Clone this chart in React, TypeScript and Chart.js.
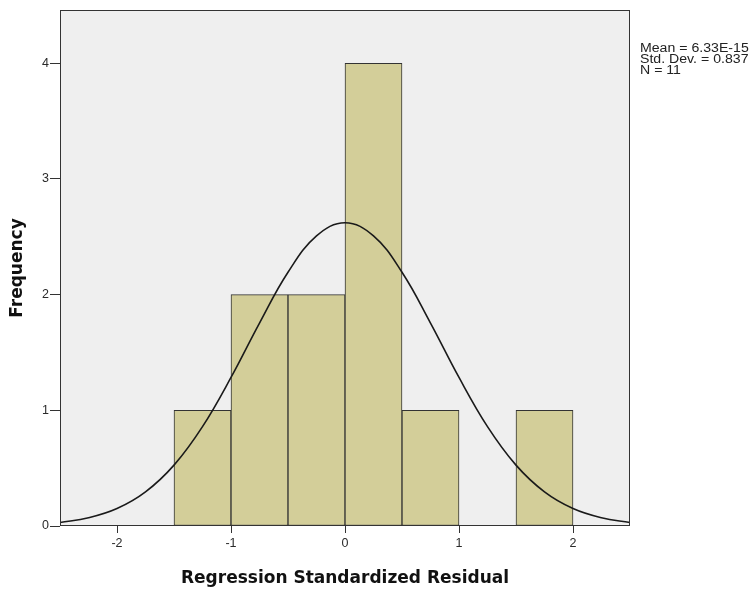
import React, { useEffect, useRef } from 'react';
import { Chart, registerables } from 'chart.js';

Chart.register(...registerables);

// Histogram bins (centers, width 0.5) and frequencies
const binCenters = [-1.25, -0.75, -0.25, 0.25, 0.75, 1.75];
const binCounts = [1, 2, 2, 4, 1, 1];

// Fitted normal curve
const curveX = [-2.5, -2.25, -2.0, -1.75, -1.5, -1.25, -1.0, -0.75, -0.5, -0.25, 0, 0.25, 0.5, 0.75, 1.0, 1.25, 1.5, 1.75, 2.0, 2.25, 2.5];
const curveY = [0.03, 0.071, 0.151, 0.295, 0.526, 0.859, 1.284, 1.754, 2.193, 2.507, 2.621, 2.507, 2.193, 1.754, 1.284, 0.859, 0.526, 0.295, 0.151, 0.071, 0.03];

const xTicks = [-2, -1, 0, 1, 2];
const yTicks = [0, 1, 2, 3, 4];

const xTitle = 'Regression Standardized Residual';
const yTitle = 'Frequency';
const statLines = ['Mean = 6.33E-15', 'Std. Dev. = 0.837', 'N = 11'];

const plotBgPlugin = {
  id: 'plotBg',
  beforeDatasetsDraw(chart: any) {
    const { ctx, chartArea: a } = chart;
    ctx.save();
    ctx.fillStyle = '#efefef';
    ctx.fillRect(a.left, a.top, a.right - a.left, a.bottom - a.top);
    ctx.restore();
  },
  afterDraw(chart: any) {
    const { ctx, chartArea: a } = chart;
    ctx.save();
    ctx.strokeStyle = '#333333';
    ctx.lineWidth = 1;
    ctx.strokeRect(Math.round(a.left) + 0.5, Math.round(a.top) + 0.5, Math.round(a.right - a.left) - 1, Math.round(a.bottom - a.top) - 1);
    ctx.restore();
    ctx.save();
    ctx.font = '12.5px Arial, "Liberation Sans"';
    ctx.fillStyle = '#222222';
    ctx.textBaseline = 'alphabetic';
    ctx.textAlign = 'left';
    ctx.translate(a.right + 10, 0);
    ctx.scale(1.13, 1);
    statLines.forEach((t, i) => {
      ctx.fillText(t, 0, 52 + i * 11);
    });
    ctx.restore();
  },
};

export default function App() {
  const ref = useRef<HTMLCanvasElement | null>(null);

  useEffect(() => {
    document.body.style.margin = '0';
    const canvas = ref.current;
    if (!canvas) return;
    const chart = new Chart(canvas, {
      type: 'bar',
      data: {
        datasets: [
          {
            type: 'line',
            data: curveX.map((x, i) => ({ x, y: curveY[i] })),
            borderColor: '#1a1a1a',
            borderWidth: 1.6,
            pointRadius: 0,
            tension: 0.4,
            fill: false,
            order: 0,
          } as any,
          {
            type: 'bar',
            data: binCenters.map((x, i) => ({ x, y: binCounts[i] })),
            backgroundColor: '#d3ce99',
            borderColor: '#333333',
            borderWidth: 1,
            borderSkipped: false,
            barPercentage: 1,
            categoryPercentage: 1,
            order: 1,
          } as any,
        ],
      },
      options: {
        responsive: false,
        animation: false,
        layout: { padding: { left: 0, top: 10, right: 125, bottom: 0 } },
        plugins: { legend: { display: false }, tooltip: { enabled: false } },
        scales: {
          x: {
            type: 'linear',
            min: -2.5,
            max: 2.5,
            offset: false,
            afterBuildTicks: (scale: any) => {
              scale.ticks = xTicks.map((v) => ({ value: v }));
            },
            afterFit: (scale: any) => {
              scale.height = 67;
            },
            border: { display: false },
            grid: { offset: false, drawOnChartArea: false, drawTicks: true, tickLength: 7, color: '#333333', tickColor: '#333333' },
            ticks: { color: '#2a2a2a', font: { family: 'Arial, "Liberation Sans"', size: 12.5 }, padding: 3 },
            title: {
              display: true,
              text: xTitle,
              color: '#111111',
              font: { family: '"DejaVu Sans"', size: 17, weight: 'bold' },
              padding: { top: 0, bottom: 4 },
            },
          },
          y: {
            type: 'linear',
            min: 0,
            max: 4.46,
            afterBuildTicks: (scale: any) => {
              scale.ticks = yTicks.map((v) => ({ value: v }));
            },
            afterFit: (scale: any) => {
              scale.width = 60;
            },
            border: { display: false },
            grid: { drawOnChartArea: false, drawTicks: true, tickLength: 10, color: '#333333', tickColor: '#333333' },
            ticks: { color: '#2a2a2a', font: { family: 'Arial, "Liberation Sans"', size: 12.5 }, padding: 1 },
            title: {
              display: true,
              text: yTitle,
              color: '#111111',
              font: { family: '"DejaVu Sans"', size: 17, weight: 'bold' },
              padding: { top: 7, bottom: 0 },
            },
          },
        },
      } as any,
      plugins: [plotBgPlugin],
    });
    return () => chart.destroy();
  }, []);

  return (
    <div style={{ width: 755, height: 593, background: '#ffffff' }}>
      <canvas ref={ref} width={755} height={593} style={{ display: 'block' }} />
    </div>
  );
}
